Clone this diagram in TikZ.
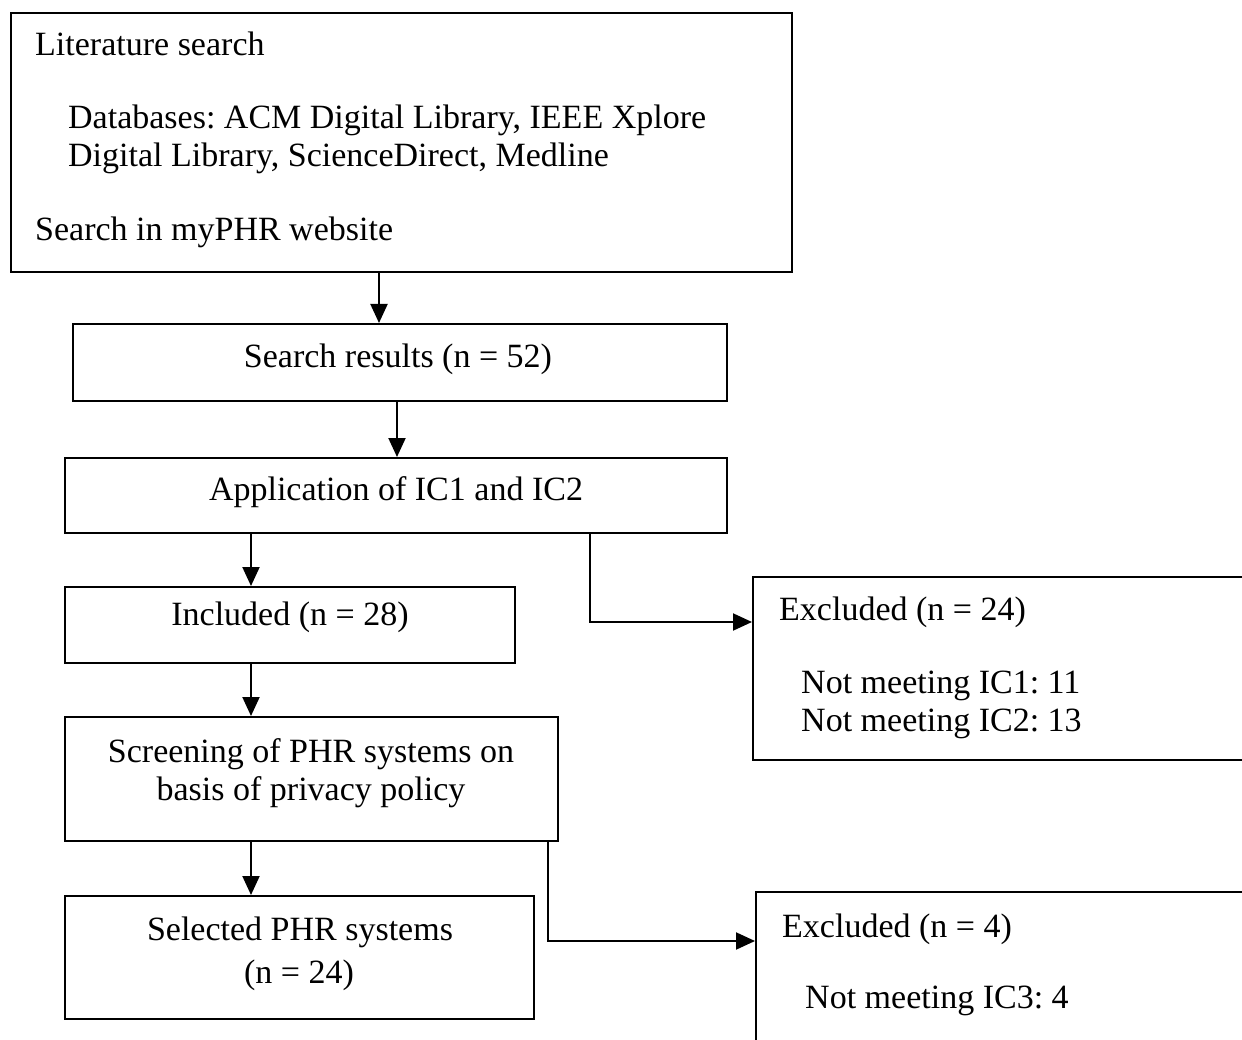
\documentclass[tikz,border=0pt]{standalone}
\usepackage{fontspec}
\setmainfont{Liberation Serif}
\usetikzlibrary{arrows.meta}
\begin{document}
\frenchspacing
\begin{tikzpicture}[x=1pt,y=-1pt,
  box/.style={draw=black,line width=2pt,rectangle,inner sep=0pt,anchor=north west},
  txt/.style={inner sep=0pt,font=\fontsize{34}{38}\selectfont},
  flow/.style={line width=2pt,-{Triangle[length=19pt,width=17pt]}},
  elbow/.style={line width=2pt,-{Triangle[length=19pt,width=17pt]}}]
\useasboundingbox (0,0) rectangle (1242,1040);
\clip (0,0) rectangle (1242,1040);
\fill[white] (0,0) rectangle (1242,1040);

% boxes
\node[box,minimum width=781pt,minimum height=259pt] (lit) at (10,12) {};
\node[box,minimum width=654pt,minimum height=77pt] (sr) at (72,323) {};
\node[box,minimum width=662pt,minimum height=75pt] (app) at (64,457) {};
\node[box,minimum width=450pt,minimum height=76pt] (inc) at (64,586) {};
\node[box,minimum width=493pt,minimum height=124pt] (scr) at (64,716) {};
\node[box,minimum width=469pt,minimum height=123pt] (sel) at (64,895) {};
\node[box,minimum width=520pt,minimum height=183pt] (ex1) at (752,576) {};
\node[box,minimum width=520pt,minimum height=180pt] (ex2) at (755,891) {};

% texts
\node[txt,anchor=base west] (t1) at (35,56) {Literature search};
\node[txt,anchor=base west] (t2) at (68,129) {Databases: ACM Digital Library, IEEE Xplore};
\node[txt,anchor=base west] (t3) at (68,167) {Digital Library, ScienceDirect, Medline};
\node[txt,anchor=base west] (t4) at (35,241) {Search in myPHR website};
\node[txt,anchor=base] (t5) at (398,367) {Search results (n = 52)};
\node[txt,anchor=base] (t6) at (396,500) {Application of IC1 and IC2};
\node[txt,anchor=base] (t7) at (290,625) {Included (n = 28)};
\node[txt,anchor=base] (t8) at (311,762) {Screening of PHR systems on};
\node[txt,anchor=base] (t9) at (311,800) {basis of privacy policy};
\node[txt,anchor=base] (t10) at (300,940) {Selected PHR systems};
\node[txt,anchor=base] (t11) at (299,983) {(n = 24)};
\node[txt,anchor=base west] (t12) at (779,620) {Excluded (n = 24)};
\node[txt,anchor=base west] (t13) at (801,693) {Not meeting IC1: 11};
\node[txt,anchor=base west] (t14) at (801,731) {Not meeting IC2: 13};
\node[txt,anchor=base west] (t15) at (782,937) {Excluded (n = 4)};
\node[txt,anchor=base west] (t16) at (805,1008) {Not meeting IC3: 4};

% connector x positions
\coordinate (c1) at (379,0);
\coordinate (c2) at (397,0);
\coordinate (c3) at (251,0);
\coordinate (c4) at (590,622);
\coordinate (c5) at (548,941);

\draw[flow] (c1 |- lit.south) -- (c1 |- sr.north);
\draw[flow] (c2 |- sr.south) -- (c2 |- app.north);
\draw[flow] (c3 |- app.south) -- (c3 |- inc.north);
\draw[flow] (c3 |- inc.south) -- (c3 |- scr.north);
\draw[flow] (c3 |- scr.south) -- (c3 |- sel.north);
\draw[elbow] (c4 |- app.south) -- (c4) -- (c4 -| ex1.west);
\draw[elbow] (c5 |- scr.south) -- (c5) -- (c5 -| ex2.west);
\end{tikzpicture}
\end{document}
